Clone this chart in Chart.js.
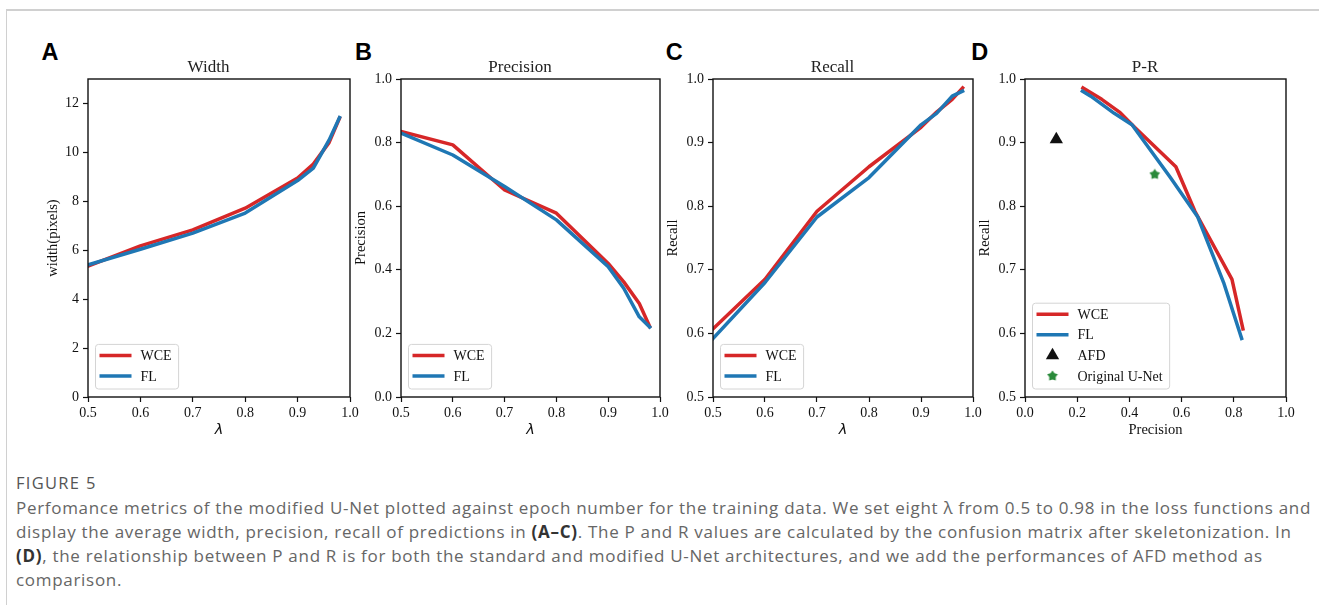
<!DOCTYPE html>
<html>
<head>
<meta charset="utf-8">
<script src="https://cdn.jsdelivr.net/npm/chart.js@4.4.0/dist/chart.umd.min.js"></script>
<style>
  body { margin: 0; background: #fff; width: 1319px; height: 608px; overflow: hidden; position: relative; }
  .frame { position: absolute; left: 6px; top: 9px; right: 0; height: 594px;
           border-top: 2px solid #d0d0d0; border-left: 1px solid #d0d0d0; }
  canvas { position: absolute; top: 40px; }
  .letter { position: absolute; top: 41.4px; font: bold 23.5px "Liberation Sans", Arial, sans-serif; line-height: 1; color: #000; }
  .fig { position: absolute; left: 16px; top: 471px; font-family: "Open Sans", sans-serif; font-size: 16.5px;
         line-height: 24px; letter-spacing: 1.3px; color: #555; }
  .caption { position: absolute; left: 16px; top: 496px; white-space: nowrap;
             font-family: "Open Sans", sans-serif; font-size: 17px; line-height: 24px; color: #666; }
  .caption span { display: inline-block; }
  .caption b { color: #333; font-weight: 700; }
</style>
</head>
<body>
<div class="frame"></div>
<div class="letter" style="left:41.5px">A</div>
<div class="letter" style="left:355px">B</div>
<div class="letter" style="left:665.7px">C</div>
<div class="letter" style="left:971.3px">D</div>
<canvas id="chartA"></canvas>
<canvas id="chartB"></canvas>
<canvas id="chartC"></canvas>
<canvas id="chartD"></canvas>
<div class="fig">FIGURE 5</div>
<div class="caption" id="caption"><span id="line1">Perfomance metrics of the modified U-Net plotted against epoch number for the training data. We set eight λ from 0.5 to 0.98 in the loss functions and</span><br>display the average width, precision, recall of predictions in <b>(A–C)</b>. The P and R values are calculated by the confusion matrix after skeletonization. In<br><b>(D)</b>, the relationship between P and R is for both the standard and modified U-Net architectures, and we add the performances of AFD method as<br>comparison.</div>
<script>
// eight lambda values used in the loss functions
const lambdas = [0.5, 0.6, 0.7, 0.8, 0.9, 0.93, 0.96, 0.98];

const widthWCE = [5.35, 6.18, 6.83, 7.72, 8.95, 9.52, 10.4, 11.4];
const widthFL = [5.4, 6.04, 6.7, 7.52, 8.85, 9.36, 10.5, 11.42];

const precisionWCE = [0.835, 0.793, 0.651, 0.578, 0.42, 0.362, 0.294, 0.222];
const precisionFL = [0.83, 0.761, 0.662, 0.557, 0.41, 0.342, 0.252, 0.22];

const recallWCE = [0.607, 0.685, 0.792, 0.862, 0.924, 0.948, 0.968, 0.986];
const recallFL = [0.592, 0.68, 0.783, 0.845, 0.928, 0.946, 0.973, 0.981];

// single reference points in the P-R panel
const afdPrecision = [0.12];
const afdRecall = [0.905];
const unetPrecision = [0.497];
const unetRecall = [0.85];

const RED = '#d62728';
const BLUE = '#1f77b4';
const GREEN = '#2a8a3a';
const SERIF = '"Liberation Serif", "Times New Roman", serif';

// spread the caption so its first line spans the same width as in the figure
(function fitCaption() {
  const cap = document.getElementById('caption');
  const line1 = document.getElementById('line1');
  const w0 = line1.getBoundingClientRect().width;
  const n = line1.textContent.length;
  cap.style.letterSpacing = ((1295 - w0) / n).toFixed(3) + 'px';
})();

const pairs = (xs, ys) => xs.map((x, i) => ({ x: x, y: ys[i] }));

// fat five-point star for the Original U-Net marker
function starMarker() {
  const c = document.createElement('canvas');
  c.width = 12; c.height = 12;
  const g = c.getContext('2d');
  g.fillStyle = GREEN;
  g.beginPath();
  for (let i = 0; i < 10; i++) {
    const r = i % 2 === 0 ? 5.6 : 3.4;
    const a = -Math.PI / 2 + i * Math.PI / 5;
    g.lineTo(6 + r * Math.cos(a), 6 + r * Math.sin(a));
  }
  g.closePath();
  g.fill();
  return c;
}

const framePlugin = {
  id: 'frame',
  afterDatasetsDraw(chart) {
    const { ctx, chartArea: a } = chart;
    ctx.save();
    ctx.strokeStyle = '#111';
    ctx.lineWidth = 1.4;
    ctx.strokeRect(a.left, a.top, a.right - a.left, a.bottom - a.top);
    ctx.restore();
  }
};

// panel title, sits a little left of the box centre as in the figure
const panelTitle = {
  id: 'panelTitle',
  afterDraw(chart, args, opts) {
    const { ctx, chartArea: a } = chart;
    ctx.save();
    ctx.font = '17px ' + SERIF;
    ctx.fillStyle = '#222';
    ctx.textAlign = 'center';
    ctx.textBaseline = 'alphabetic';
    ctx.fillText(opts.text, (a.left + a.right) / 2 - 10.5, a.top - 7.3);
    ctx.restore();
  }
};

// matplotlib style legend in the lower left corner of the plot box
const boxLegend = {
  id: 'boxLegend',
  afterDraw(chart) {
    const { ctx, chartArea: a } = chart;
    const items = chart.data.datasets;
    ctx.save();
    ctx.font = '14px ' + SERIF;
    const textW = Math.max(...items.map(d => ctx.measureText(d.label).width));
    const w = 4 + 32 + 9 + textW + 7;
    const rowH = 20.6;
    const h = 11 + (items.length - 1) * rowH + 13;
    const x0 = a.left + 7.5, y0 = a.bottom - 8 - h;
    ctx.beginPath();
    ctx.roundRect(x0, y0, w, h, 3);
    ctx.fillStyle = 'rgba(255,255,255,0.85)';
    ctx.fill();
    ctx.strokeStyle = '#d4d4d4';
    ctx.lineWidth = 1;
    ctx.stroke();
    items.forEach((d, i) => {
      const cy = y0 + 11 + i * rowH;
      if (d.showLine) {
        ctx.beginPath();
        ctx.moveTo(x0 + 4, cy);
        ctx.lineTo(x0 + 36, cy);
        ctx.strokeStyle = d.borderColor;
        ctx.lineWidth = 3.5;
        ctx.stroke();
      } else {
        ctx.fillStyle = d.backgroundColor;
        ctx.strokeStyle = d.backgroundColor;
        Chart.helpers.drawPoint(ctx, { pointStyle: d.pointStyle, radius: d.pointRadius, rotation: 0, borderWidth: 0 }, x0 + 20, cy);
      }
      ctx.fillStyle = '#111';
      ctx.textBaseline = 'middle';
      ctx.fillText(d.label, x0 + 45, cy + 1);
    });
    ctx.restore();
  }
};

function lineSet(label, pts, color, order) {
  return {
    label: label, data: pts, showLine: true, borderColor: color, backgroundColor: color,
    borderWidth: 3.5, pointRadius: 0, pointHoverRadius: 0, tension: 0,
    borderCapStyle: 'square', borderJoinStyle: 'round', order: order
  };
}

function axis(min, max, step, title, titleFont, size, isY) {
  return {
    type: 'linear', min: min, max: max,
    ticks: {
      stepSize: step, includeBounds: false, color: '#111', padding: isY ? 4 : 3,
      font: { family: SERIF, size: 14 },
      callback: v => (step >= 1 ? String(Math.round(v)) : v.toFixed(1))
    },
    grid: { drawOnChartArea: false, drawTicks: true, tickLength: 5, tickColor: '#111', tickWidth: 1.2 },
    border: { display: false },
    title: {
      display: true, text: title, color: '#111', padding: { top: 0, bottom: 0 },
      font: titleFont
    },
    afterFit: s => { if (isY) s.width = size; else s.height = size; }
  };
}

function makePanel(id, p) {
  const canvas = document.getElementById(id);
  const canvasLeft = p.chartL - 70;
  const w = p.chartR - p.chartL + 84;
  canvas.width = w; canvas.height = 400;
  canvas.style.left = canvasLeft + 'px';
  canvas.style.width = w + 'px'; canvas.style.height = '400px';
  const lam = { family: '"DejaVu Sans", sans-serif', size: 14.5, style: 'italic' };
  const lbl = { family: SERIF, size: 14.5 };
  return new Chart(canvas, {
    type: 'scatter',
    data: { datasets: p.datasets },
    options: {
      responsive: false, animation: false, devicePixelRatio: 1,
      layout: { padding: { left: 70 - p.yW, right: 14, top: 39, bottom: 1 } },
      scales: {
        x: axis(p.x[0], p.x[1], p.x[2], p.xTitle, p.xTitle === 'λ' ? lam : lbl, 42, false),
        y: axis(p.y[0], p.y[1], p.y[2], p.yTitle, lbl, p.yW, true)
      },
      plugins: {
        legend: { display: false },
        tooltip: { enabled: false },
        title: { display: false },
        panelTitle: { text: p.title }
      }
    },
    plugins: [framePlugin, panelTitle, boxLegend]
  });
}

makePanel('chartA', {
  chartL: 88, chartR: 350, yW: 43.9, title: 'Width', xTitle: 'λ', yTitle: 'width(pixels)',
  x: [0.5, 1.0, 0.1], y: [0, 13, 2],
  datasets: [lineSet('WCE', pairs(lambdas, widthWCE), RED, 1), lineSet('FL', pairs(lambdas, widthFL), BLUE, 0)]
});

makePanel('chartB', {
  chartL: 401, chartR: 660, yW: 48.4, title: 'Precision', xTitle: 'λ', yTitle: 'Precision',
  x: [0.5, 1.0, 0.1], y: [0, 1, 0.2],
  datasets: [lineSet('WCE', pairs(lambdas, precisionWCE), RED, 1), lineSet('FL', pairs(lambdas, precisionFL), BLUE, 0)]
});

makePanel('chartC', {
  chartL: 713, chartR: 973, yW: 48.4, title: 'Recall', xTitle: 'λ', yTitle: 'Recall',
  x: [0.5, 1.0, 0.1], y: [0.5, 1, 0.1],
  datasets: [lineSet('WCE', pairs(lambdas, recallWCE), RED, 1), lineSet('FL', pairs(lambdas, recallFL), BLUE, 0)]
});

makePanel('chartD', {
  chartL: 1025, chartR: 1286, yW: 48.4, title: 'P-R', xTitle: 'Precision', yTitle: 'Recall',
  x: [0, 1, 0.2], y: [0.5, 1, 0.1],
  datasets: [
    lineSet('WCE', pairs(precisionWCE, recallWCE), RED, 1),
    lineSet('FL', pairs(precisionFL, recallFL), BLUE, 0),
    { label: 'AFD', data: pairs(afdPrecision, afdRecall), showLine: false, pointStyle: 'triangle',
      pointRadius: 7.7, pointHoverRadius: 7.7, backgroundColor: '#111', borderColor: '#111', borderWidth: 0 },
    { label: 'Original U-Net', data: pairs(unetPrecision, unetRecall), showLine: false, pointStyle: starMarker(),
      pointRadius: 6, pointHoverRadius: 6, backgroundColor: GREEN, borderColor: GREEN, borderWidth: 0 }
  ]
});
</script>
</body>
</html>
